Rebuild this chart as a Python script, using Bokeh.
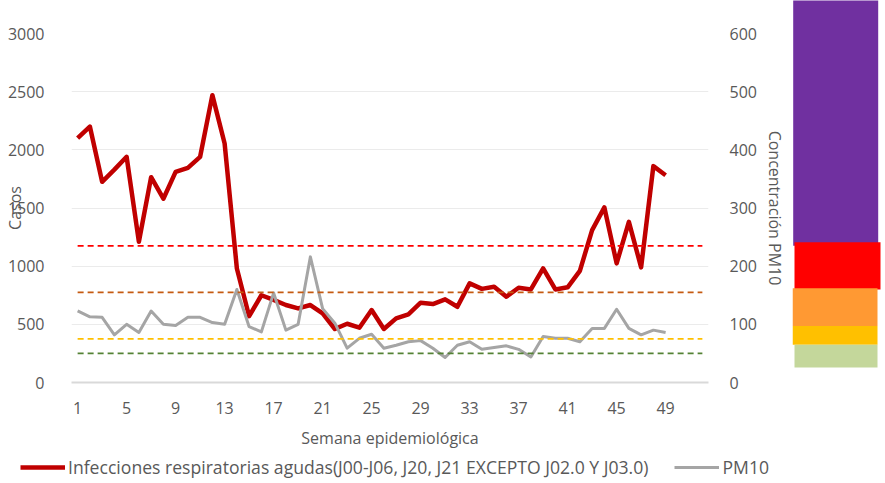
from bokeh.plotting import figure
from bokeh.models import Range1d, LinearAxis, FixedTicker, Legend, LegendItem
from bokeh.layouts import row, column
from bokeh.embed import file_html
from bokeh.resources import INLINE

# ---------------- data ----------------
weeks = list(range(1, 50))
ira = [2100, 2200, 1725, 1830, 1940, 1210, 1765, 1580, 1810, 1845,
       1940, 2470, 2055, 980, 570, 750, 710, 666, 637, 666,
       594, 460, 505, 471, 623, 460, 551, 586, 686, 674,
       715, 651, 852, 805, 823, 737, 814, 800, 981, 800,
       818, 960, 1310, 1505, 1024, 1381, 990, 1860, 1782]
pm10 = [123, 113, 112, 82, 100, 86, 123, 100, 98, 112,
        112, 103, 100, 160, 96, 87, 154, 90, 100, 216,
        127, 102, 59, 76, 83, 59, 64, 70, 72, 59,
        43, 64, 70, 57, 60, 63, 57, 44, 79, 76,
        76, 70, 93, 93, 126, 93, 82, 90, 86]
x_ticks = [1, 5, 9, 13, 17, 21, 25, 29, 33, 37, 41, 45, 49]
left_ticks = [0, 500, 1000, 1500, 2000, 2500, 3000]
right_ticks = [0, 100, 200, 300, 400, 500, 600]
threshold_values = [235, 155, 75, 50]
threshold_colors = ["#FF0000", "#C55A11", "#FFC000", "#548235"]
threshold_weeks = [1, 52]

# colour scale image on the right (in PM10 units)
band_bottoms = [235, 160, 97, 65, 26]
band_tops = [700, 241, 162, 97, 65]
band_lefts = [0.7, 2, 0, 0, 2]
band_rights = [85.7, 88, 85, 85, 85]
band_colors = ["#7030A0", "#FF0000", "#FF9933", "#FFC000", "#C4D79B"]

series_label_ira = "Infecciones respiratorias agudas(J00-J06, J20, J21 EXCEPTO J02.0 Y J03.0)"
series_label_pm = "PM10"

# ---------------- layout constants ----------------
FONT = "Open Sans"
TXT = "#595959"
H = 452
TOP = 33
FRAME_H = 349
W_MAIN = 792
W_BARS = 90
H_LEG = 30

p = figure(width=W_MAIN, height=H, output_backend="svg", toolbar_location=None,
           x_range=Range1d(0.5, 52.5), y_range=Range1d(0, 3000),
           min_border_left=71, min_border_right=84, min_border_top=TOP,
           min_border_bottom=H - TOP - FRAME_H)
p.extra_y_ranges = {"pm": Range1d(0, 600)}
p.outline_line_color = None
p.background_fill_color = "white"
p.border_fill_color = "white"

# x axis
xa = p.xaxis[0]
xa.ticker = FixedTicker(ticks=x_ticks)
xa.axis_line_color = "#D9D9D9"
xa.axis_line_width = 2
xa.major_tick_line_color = None
xa.minor_tick_line_color = None
xa.major_label_standoff = 13
xa.major_label_text_font = FONT
xa.major_label_text_font_size = "16px"
xa.major_label_text_color = TXT
xa.axis_label = "Semana epidemiológica"
xa.axis_label_standoff = 10
xa.axis_label_text_font = FONT
xa.axis_label_text_font_size = "16px"
xa.axis_label_text_font_style = "normal"
xa.axis_label_text_color = TXT

# left axis
ya = p.yaxis[0]
ya.ticker = FixedTicker(ticks=left_ticks)
ya.axis_line_color = None
ya.major_tick_line_color = None
ya.minor_tick_line_color = None
ya.major_label_standoff = 21
ya.major_label_text_font = FONT
ya.major_label_text_font_size = "16px"
ya.major_label_text_color = TXT
ya.axis_label = "Casos"
ya.axis_label_standoff = -21
ya.axis_label_text_font = FONT
ya.axis_label_text_font_size = "16px"
ya.axis_label_text_font_style = "normal"
ya.axis_label_text_color = TXT

# right axis
ra = LinearAxis(y_range_name="pm", ticker=FixedTicker(ticks=right_ticks))
ra.axis_line_color = None
ra.major_tick_line_color = None
ra.minor_tick_line_color = None
ra.major_label_standoff = 15
ra.major_label_text_font = FONT
ra.major_label_text_font_size = "16px"
ra.major_label_text_color = TXT
ra.axis_label = "Concentración PM10"
ra.axis_label_standoff = 4
ra.axis_label_text_font = FONT
ra.axis_label_text_font_size = "16px"
ra.axis_label_text_font_style = "normal"
ra.axis_label_text_color = TXT
p.add_layout(ra, "right")

p.xgrid.visible = False
p.ygrid.ticker = FixedTicker(ticks=left_ticks)
p.ygrid.grid_line_color = "#EBEBEB"
p.ygrid.grid_line_width = 1

# series
IRA_STYLE = dict(line_color="#C00000", line_width=4.5, line_join="round")
PM_STYLE = dict(line_color="#A5A5A5", line_width=3, line_join="round")
p.line(weeks, ira, **IRA_STYLE)
p.line(weeks, pm10, y_range_name="pm", **PM_STYLE)
for v, c in zip(threshold_values, threshold_colors):
    p.line(threshold_weeks, [v, v], line_color=c, line_width=1.8, line_dash="6 4",
           y_range_name="pm")

# legend strip (series drawn out of view, only the legend shows)
leg = figure(width=W_MAIN, height=H_LEG, output_backend="svg",
             toolbar_location=None, x_range=Range1d(-100, -99), y_range=Range1d(-100, -99),
             min_border=0)
leg.axis.visible = False
leg.grid.visible = False
leg.outline_line_color = None
l_ira = leg.line(weeks, ira, **IRA_STYLE)
l_pm = leg.line(weeks, pm10, **PM_STYLE)
legend = Legend(items=[LegendItem(label=series_label_ira, renderers=[l_ira]),
                       LegendItem(label=series_label_pm, renderers=[l_pm])],
                orientation="horizontal", location=(20, 3))
legend.glyph_width = 45
legend.glyph_height = 18
legend.label_height = 22
legend.label_standoff = 3
legend.spacing = 26
legend.padding = 0
legend.margin = 0
legend.border_line_color = None
legend.background_fill_alpha = 0
legend.label_text_font = FONT
legend.label_text_font_size = "17.6px"
legend.label_text_color = TXT
leg.add_layout(legend, "center")

# colour scale on the right (full height, mapped to the PM10 scale of the main frame)
H_ALL = H + H_LEG
frame_bottom_px = TOP + FRAME_H
v_top = 600 * frame_bottom_px / FRAME_H
v_bottom = -600 * (H_ALL - frame_bottom_px) / FRAME_H
b = figure(width=W_BARS, height=H_ALL, output_backend="svg", toolbar_location=None,
           x_range=Range1d(0, W_BARS), y_range=Range1d(v_bottom, v_top),
           min_border=0)
b.axis.visible = False
b.grid.visible = False
b.outline_line_color = None
b.quad(left=band_lefts, right=band_rights, bottom=band_bottoms, top=band_tops,
       fill_color=band_colors, line_color=None)

layout = row(column(p, row(leg)), b)
open("out.html", "w").write(file_html(layout, INLINE))
